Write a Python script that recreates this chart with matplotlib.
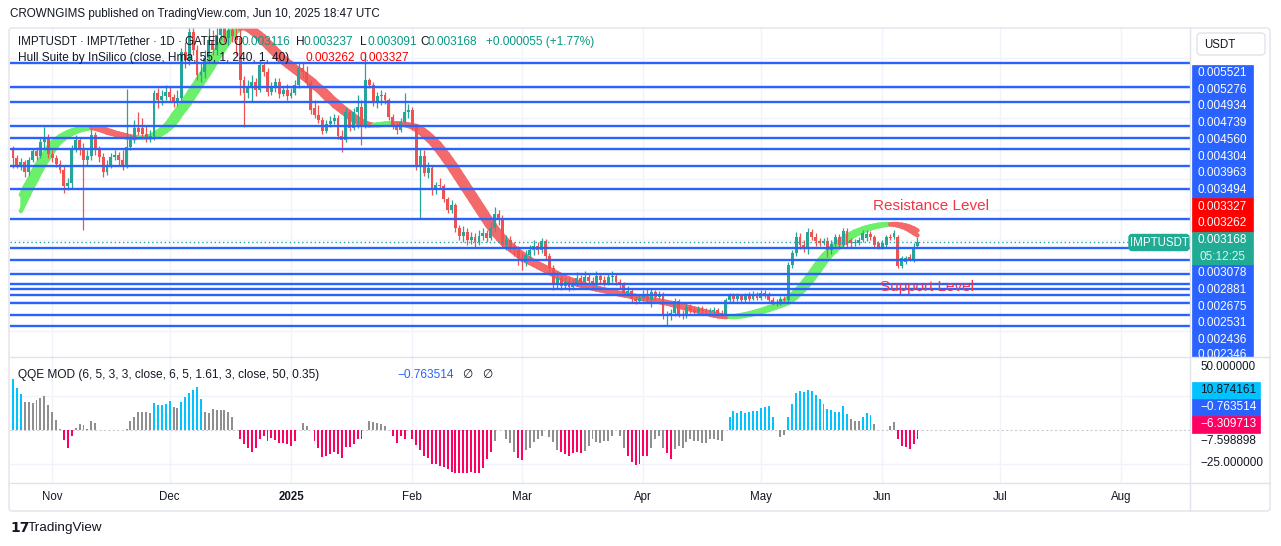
import datetime as dt
import numpy as np
import matplotlib
matplotlib.use("Agg")
import matplotlib.pyplot as plt
import matplotlib.dates as mdates
from matplotlib.patches import Rectangle, FancyBboxPatch
from matplotlib.collections import PolyCollection, LineCollection

plt.rcParams['font.family'] = ['Liberation Sans', 'DejaVu Sans']

W, H = 1281, 546

# daily candles IMPT/USDT, 2024-10-22 .. 2025-06-10, prices in 1e-6 USDT
first_day = dt.datetime(2024, 10, 22)
opens = [
    4385, 4280, 4188, 4227, 4095, 4253, 4372, 4306, 4490, 4556,
    4332, 4280, 4201, 4122, 3911, 3951, 4398, 4517, 4385, 4253,
    4306, 4583, 4385, 4293, 4095, 4188, 4293, 4319, 4253, 4174,
    4424, 4517, 4675, 4675, 4596, 4543, 4569, 5135, 5043, 5096,
    5148, 5082, 5004, 5069, 5675, 5569, 5938, 5701, 5372, 5411,
    5596, 5833, 5701, 5898, 5991, 5859, 5964, 5885, 5859, 5306,
    5135, 5227, 5280, 5175, 5504, 5411, 5148, 5201, 5280, 5122,
    5175, 5096, 5135, 5240, 5464, 5411, 5267, 4938, 4846, 4780,
    4635, 4727, 4767, 4806, 4569, 4517, 4885, 4675, 4885, 4951,
    4701, 5306, 5240, 5004, 5096, 5109, 5043, 4819, 4701, 4648,
    4754, 4885, 4911, 4688, 4161, 4306, 4082, 4148, 3859, 3924,
    3911, 3740, 3595, 3661, 3359, 3253, 3306, 3201, 3240, 3174,
    3253, 3293, 3227, 3359, 3543, 3464, 3135, 3201, 3109, 3069,
    2964, 2911, 3003, 3069, 3122, 3069, 3187, 2990, 2832, 2635,
    2701, 2595, 2648, 2582, 2635, 2701, 2648, 2714, 2661, 2622,
    2727, 2674, 2635, 2714, 2727, 2648, 2608, 2503, 2529, 2424,
    2398, 2437, 2490, 2411, 2516, 2450, 2490, 2201, 2227, 2240,
    2398, 2227, 2201, 2319, 2279, 2253, 2293, 2266, 2253, 2266,
    2279, 2240, 2227, 2411, 2464, 2424, 2464, 2411, 2464, 2424,
    2477, 2437, 2503, 2477, 2411, 2385, 2371, 2424, 2411, 2872,
    3030, 3240, 3135, 3095, 3306, 3240, 3187, 3161, 3187, 3069,
    3148, 3240, 3135, 3319, 3201, 3161, 3161, 3201, 3227, 3280,
    3240, 3161, 3109, 3135, 3240, 3240, 3240, 2858, 2911, 2977,
    2937, 3116]
highs = [
    4438, 4319, 4280, 4253, 4293, 4411, 4424, 4556, 4688, 4596,
    4385, 4319, 4253, 4174, 4017, 4451, 4583, 4556, 4477, 4385,
    4675, 4622, 4438, 4345, 4253, 4345, 4385, 4359, 4385, 5188,
    4583, 4780, 4885, 4806, 4714, 4648, 5175, 5201, 5175, 5240,
    5214, 5122, 5175, 5727, 5806, 6030, 6030, 5767, 5530, 5701,
    6030, 5964, 6030, 6096, 6096, 6096, 6069, 5991, 5964, 5359,
    5306, 5372, 5333, 5569, 5543, 5464, 5280, 5333, 5333, 5227,
    5254, 5201, 5306, 5543, 5530, 5490, 5306, 5043, 4977, 4819,
    4780, 4832, 4859, 4846, 4648, 4938, 4911, 4938, 5109, 5043,
    5675, 5333, 5280, 5148, 5175, 5148, 5069, 4859, 4754, 4806,
    5135, 4990, 4951, 4714, 4411, 4385, 4227, 4188, 3964, 4017,
    3938, 3767, 3727, 3688, 3398, 3385, 3359, 3306, 3293, 3332,
    3359, 3332, 3438, 3635, 3595, 3530, 3266, 3253, 3174, 3122,
    3043, 3069, 3135, 3201, 3174, 3227, 3214, 3030, 2872, 2779,
    2740, 2714, 2701, 2687, 2779, 2740, 2793, 2753, 2714, 2793,
    2766, 2727, 2766, 2793, 2766, 2687, 2648, 2595, 2569, 2464,
    2490, 2543, 2569, 2556, 2543, 2529, 2516, 2266, 2293, 2437,
    2424, 2279, 2358, 2358, 2319, 2332, 2332, 2306, 2306, 2319,
    2306, 2279, 2437, 2503, 2503, 2503, 2490, 2503, 2516, 2529,
    2516, 2543, 2543, 2516, 2450, 2424, 2464, 2464, 2911, 3069,
    3306, 3293, 3201, 3359, 3345, 3293, 3227, 3227, 3240, 3201,
    3280, 3280, 3359, 3359, 3227, 3214, 3240, 3332, 3332, 3319,
    3266, 3187, 3201, 3266, 3280, 3332, 3266, 2990, 2990, 3016,
    3161, 3237]
lows = [
    4148, 4148, 4122, 4030, 4056, 4227, 4253, 4280, 4411, 4280,
    4227, 4161, 4082, 3819, 3859, 3885, 4359, 4319, 3332, 4188,
    4253, 4319, 4227, 4030, 4056, 4148, 4253, 4188, 4122, 4148,
    4385, 4477, 4583, 4543, 4490, 4490, 4517, 4938, 4977, 5043,
    5017, 4951, 4964, 5043, 5464, 5504, 5635, 5306, 5280, 5333,
    5543, 5635, 5635, 5833, 5806, 5767, 5806, 5635, 5109, 4688,
    5069, 5017, 5096, 5148, 5359, 5096, 5109, 5148, 5069, 5096,
    5043, 5069, 5109, 5201, 5333, 5227, 4859, 4806, 4740, 4596,
    4609, 4688, 4727, 4530, 4359, 4490, 4635, 4648, 4675, 4451,
    4675, 5201, 4964, 4938, 4977, 4990, 4780, 4661, 4596, 4622,
    4727, 4806, 4648, 4122, 3490, 4043, 4017, 3793, 3806, 3872,
    3701, 3556, 3556, 3306, 3201, 3174, 3135, 3148, 3109, 3135,
    3201, 3174, 3201, 3306, 3398, 3095, 3069, 3043, 2990, 2872,
    2806, 2858, 2964, 3003, 3016, 3030, 2951, 2779, 2543, 2569,
    2543, 2556, 2529, 2543, 2595, 2595, 2608, 2622, 2569, 2582,
    2622, 2595, 2608, 2648, 2608, 2556, 2464, 2464, 2385, 2358,
    2371, 2398, 2385, 2319, 2411, 2424, 2161, 2069, 2148, 2201,
    2187, 2161, 2174, 2240, 2227, 2227, 2227, 2214, 2227, 2227,
    2214, 2201, 2201, 2385, 2385, 2398, 2385, 2385, 2398, 2411,
    2411, 2411, 2437, 2385, 2345, 2332, 2345, 2371, 2385, 2832,
    2990, 3082, 3043, 3016, 3201, 3122, 3122, 3135, 2977, 3016,
    3109, 3095, 3109, 3095, 3095, 3122, 3135, 3174, 3187, 3201,
    3095, 3082, 3082, 3109, 3201, 3214, 2832, 2832, 2885, 2924,
    2911, 3091]
closes = [
    4280, 4188, 4227, 4095, 4253, 4372, 4306, 4490, 4556, 4332,
    4280, 4201, 4122, 3911, 3951, 4398, 4517, 4385, 4253, 4306,
    4583, 4385, 4293, 4095, 4188, 4293, 4319, 4253, 4174, 4424,
    4517, 4675, 4622, 4596, 4543, 4569, 5135, 5043, 5096, 5148,
    5082, 5004, 5069, 5675, 5569, 5938, 5701, 5372, 5411, 5596,
    5833, 5701, 5898, 5991, 5859, 5964, 5885, 5833, 5306, 5135,
    5227, 5280, 5175, 5504, 5411, 5148, 5201, 5280, 5122, 5175,
    5096, 5135, 5240, 5464, 5411, 5267, 4911, 4846, 4780, 4635,
    4727, 4767, 4806, 4569, 4517, 4885, 4675, 4885, 4951, 4701,
    5306, 5240, 5004, 5096, 5109, 5043, 4819, 4701, 4648, 4754,
    4885, 4911, 4688, 4161, 4306, 4082, 4148, 3859, 3924, 3911,
    3740, 3595, 3661, 3359, 3253, 3306, 3201, 3240, 3174, 3253,
    3293, 3227, 3359, 3543, 3464, 3135, 3201, 3109, 3069, 2964,
    2911, 3003, 3069, 3122, 3069, 3187, 2990, 2832, 2635, 2701,
    2595, 2648, 2582, 2635, 2701, 2648, 2714, 2661, 2622, 2727,
    2674, 2635, 2714, 2727, 2648, 2608, 2503, 2529, 2424, 2398,
    2437, 2490, 2411, 2516, 2450, 2490, 2201, 2227, 2240, 2398,
    2227, 2201, 2319, 2279, 2253, 2293, 2266, 2253, 2266, 2279,
    2240, 2227, 2411, 2464, 2424, 2464, 2411, 2464, 2424, 2477,
    2437, 2503, 2477, 2411, 2385, 2371, 2424, 2411, 2872, 3030,
    3240, 3135, 3095, 3306, 3240, 3187, 3161, 3187, 3069, 3148,
    3240, 3135, 3319, 3135, 3161, 3174, 3201, 3293, 3280, 3240,
    3135, 3109, 3161, 3240, 3227, 3293, 2858, 2964, 2964, 2951,
    3113, 3168]

# Hull Suite (HMA 55) value per candle, 1e-6 USDT
hull = [
    3582, 3688, 3793, 3898, 3990, 4095, 4188, 4267, 4346, 4424,
    4490, 4530, 4569, 4596, 4622, 4642, 4655, 4668, 4675, 4677,
    4678, 4668, 4651, 4635, 4615, 4602, 4589, 4576, 4563, 4553,
    4546, 4543, 4546, 4549, 4556, 4569, 4596, 4628, 4668, 4714,
    4780, 4859, 4925, 4990, 5069, 5148, 5227, 5306, 5385, 5464,
    5556, 5635, 5714, 5793, 5872, 5938, 5977, 5997, 6004, 5991,
    5964, 5925, 5885, 5833, 5780, 5727, 5675, 5622, 5569, 5530,
    5490, 5451, 5411, 5372, 5333, 5293, 5240, 5201, 5161, 5109,
    5056, 5017, 4964, 4925, 4885, 4846, 4806, 4773, 4747, 4727,
    4714, 4710, 4714, 4721, 4727, 4734, 4736, 4734, 4727, 4721,
    4714, 4701, 4681, 4648, 4609, 4563, 4517, 4464, 4398, 4332,
    4260, 4188, 4109, 4030, 3951, 3872, 3793, 3714, 3635, 3556,
    3477, 3398, 3332, 3266, 3207, 3155, 3108, 3069, 3030, 2990,
    2957, 2924, 2898, 2872, 2845, 2819, 2793, 2766, 2740, 2714,
    2694, 2674, 2654, 2635, 2615, 2602, 2589, 2575, 2562, 2549,
    2539, 2529, 2516, 2503, 2493, 2483, 2473, 2464, 2453, 2444,
    2433, 2424, 2414, 2404, 2394, 2385, 2374, 2365, 2352, 2339,
    2325, 2312, 2299, 2286, 2273, 2260, 2247, 2233, 2220, 2207,
    2197, 2190, 2187, 2190, 2197, 2204, 2214, 2224, 2236, 2249,
    2264, 2279, 2296, 2315, 2332, 2352, 2371, 2404, 2444, 2490,
    2543, 2595, 2661, 2727, 2799, 2872, 2944, 3003, 3056, 3102,
    3148, 3187, 3227, 3260, 3286, 3313, 3332, 3352, 3368, 3381,
    3391, 3401, 3407, 3411, 3409, 3402, 3391, 3376, 3355, 3327,
    3293, 3262]

# QQE MOD histogram and bar colours (c = cyan, g = grey, p = pink)
qqe = [
    37.7, 30.6, 26.7, 20.8, 20.8, 20.1, 22.0, 23.3, 25.0, 18.4,
    13.5, 7.4, 0.4, -7.4, -13.0, -4.4, 1.7, 4.7, 3.7, 0.4,
    6.6, 4.9, 0, 0, 0, 0, 0, 0, 0, 0.4,
    6.6, 9.6, 13.2, 13.2, 13.2, 12.7, 19.9, 18.4, 18.4, 19.4,
    21.6, 16.7, 16.4, 20.8, 24.5, 27.5, 29.4, 31.6, 22.5, 13.5,
    12.7, 15.7, 14.7, 14.5, 14.5, 13.2, 9.8, 0, -6.9, -10.5,
    -13.0, -15.9, -13.0, -6.9, -4.4, -8.1, -5.6, -7.4, -9.3, -9.3,
    -10.5, -11.8, -8.1, 0, 4.9, 2.9, 0, -8.1, -13.0, -19.6,
    -19.1, -17.4, -16.2, -17.4, -20.8, -12.3, -12.3, -10.0, -6.4, -6.9,
    0, 6.6, 5.9, 5.4, 4.2, 2.9, 0, -4.4, -9.8, -4.4,
    -6.4, 0, -6.9, -11.3, -15.0, -19.1, -20.3, -24.8, -25.2, -26.5,
    -27.2, -28.9, -30.9, -31.9, -31.9, -31.9, -31.9, -30.9, -31.4, -31.4,
    -27.7, -21.1, -16.2, -8.1, 0, 0, -6.4, -9.8, -15.9, -20.3,
    -22.1, -14.7, -13.0, -8.8, -6.9, -4.4, 0, -5.1, -8.8, -14.7,
    -16.2, -17.4, -19.1, -16.7, -16.2, -16.7, -15.4, -11.8, -6.9, -8.8,
    -9.3, -8.1, -8.1, -4.4, 0, -4.4, -13.0, -19.1, -23.5, -25.5,
    -25.2, -19.1, -19.1, -13.0, -6.9, -4.4, -13.0, -17.2, -21.1, -13.7,
    -11.8, -13.0, -8.8, -6.9, -8.1, -8.1, -9.8, -9.8, -6.4, -6.9,
    -7.4, -8.1, 0, 9.6, 14.0, 12.5, 14.0, 12.7, 13.5, 14.0,
    14.0, 16.4, 17.2, 17.6, 9.6, 0, -4.9, -3.7, 9.6, 18.9,
    27.0, 28.7, 27.9, 29.2, 28.7, 25.7, 22.5, 18.9, 15.2, 14.7,
    13.2, 13.2, 17.6, 11.5, 8.3, 6.6, 6.6, 9.6, 12.3, 10.8,
    4.2, 0, 0, 0, 2.9, 5.9, -6.4, -11.8, -12.3, -13.7,
    -10.5, -6.309713]
qqe_colors = ("cccggggggg" "gggpppgggg" "gggggggggg" "ggggggcccc" "cggccccccg"
              "ggggggggpp" "pppppppppp" "pppggggppp" "pppppppppp" "gggggggppp"
              "pgpppppppp" "pppppppppp" "pppggggggp" "pggggggggg" "ppppppgggg"
              "gggggggppp" "pppggggppg" "gggggggggg" "gggccccccc" "cccccgggcc"
              "cccccccccc" "ccccgggccc" "ggggggpppp" "pp")
qqe_side_values = ["10.874161", "\u22120.763514", "\u22126.309713", "\u22127.598898"]

# horizontal lines drawn on the chart, 1e-6 USDT
levels = [5526, 5218, 5013, 4705, 4539, 4395, 4171, 3868, 3473,
          3092, 2934, 2757, 2626, 2552, 2473, 2376, 2218, 2073]
labels_top = ["0.005521", "0.005276", "0.004934", "0.004739",
              "0.004560", "0.004304", "0.003963", "0.003494"]
labels_bottom = ["0.003078", "0.002881", "0.002675", "0.002531", "0.002436", "0.002346"]

month_ticks = [dt.datetime(2024, 11, 1), dt.datetime(2024, 12, 1), dt.datetime(2025, 1, 1),
               dt.datetime(2025, 2, 1), dt.datetime(2025, 3, 1), dt.datetime(2025, 4, 1),
               dt.datetime(2025, 5, 1), dt.datetime(2025, 6, 1), dt.datetime(2025, 7, 1),
               dt.datetime(2025, 8, 1)]
month_names = ["Nov", "Dec", "2025", "Feb", "Mar", "Apr", "May", "Jun", "Jul", "Aug"]

UP, DN = "#26a69a", "#ef5350"
HULL_UP, HULL_DN = "#6cf06c", "#f46a6a"
BLUE = "#2962ff"
GRID = "#f0f3fa"
BORDER = "#e0e3eb"
TXT = "#131722"


def rect(x0, y0, x1, y1):
    return [x0 / W, 1 - y1 / H, (x1 - x0) / W, (y1 - y0) / H]


o = np.array(opens) / 1e6
h = np.array(highs) / 1e6
l = np.array(lows) / 1e6
c = np.array(closes) / 1e6
hm = np.array(hull) / 1e6
n = len(c)
d0 = mdates.date2num(first_day)
x = d0 + np.arange(n)
xlim = (d0 - 0.77, d0 + 300.6)
mnum = mdates.date2num(month_ticks)

fig = plt.figure(figsize=(W / 100, H / 100), dpi=100)
fig.patch.set_facecolor("white")

# ---- price pane
ax = fig.add_axes(rect(10, 28, 1190, 357))
ax.set_xlim(*xlim)
ax.set_ylim(0.001661, 0.005991)
ax.set_xticks([])
ax.set_yticks([])
for s in ax.spines.values():
    s.set_visible(False)
for m in mnum:
    ax.axvline(m, color=GRID, lw=1, zorder=0)
for g in np.arange(0.0020, 0.0060, 0.0004):
    ax.axhline(g, color=GRID, lw=1, zorder=0)

# hull band
hcol = []
cur = HULL_UP
for i in range(n):
    if i >= 2:
        if hm[i] > hm[i - 2]:
            cur = HULL_UP
        elif hm[i] < hm[i - 2]:
            cur = HULL_DN
    hcol.append(cur)
polys, pcols, segs_m, segs_s = [], [], [], []
for i in range(3, n):
    polys.append([(x[i - 1], hm[i - 1]), (x[i], hm[i]), (x[i], hm[i - 2]), (x[i - 1], hm[i - 3])])
    pcols.append(hcol[i])
    segs_m.append([(x[i - 1], hm[i - 1]), (x[i], hm[i])])
    segs_s.append([(x[i - 1], hm[i - 3]), (x[i], hm[i - 2])])
ax.add_collection(PolyCollection(polys, facecolors=pcols, edgecolors=pcols, linewidths=0.6, zorder=2))
ax.add_collection(LineCollection(segs_m, colors=pcols, linewidths=3.2, capstyle="round", zorder=2))
ax.add_collection(LineCollection(segs_s, colors=pcols, linewidths=3.2, capstyle="round", zorder=2))

# candles
up = c >= o
col = np.where(up, UP, DN)
ax.vlines(x, l, h, colors=col, lw=0.9, zorder=3)
ax.bar(x, np.maximum(np.abs(c - o), 9e-6), bottom=np.minimum(o, c), width=0.74,
       color=col, linewidth=0, zorder=3)

for p in levels:
    ax.axhline(p / 1e6, color=BLUE, lw=1.7, zorder=4)
ax.axhline(c[-1], color=UP, lw=1, ls=(0, (1, 2)), zorder=4)

# ---- QQE pane
axq = fig.add_axes(rect(10, 357, 1190, 483))
axq.set_xlim(*xlim)
axq.set_ylim(-39.0, 53.7)
for s in axq.spines.values():
    s.set_visible(False)
for m in mnum:
    axq.axvline(m, color=GRID, lw=1, zorder=0)
for g in (25, -25):
    axq.axhline(g, color=GRID, lw=1, zorder=0)
axq.axhline(0, color="#c9ccd3", lw=0.8, ls=(0, (2, 2)), zorder=1)
cmap = {"c": "#00c3ff", "g": "#8f8f8f", "p": "#ff0062"}
axq.bar(x, qqe, width=0.5, color=[cmap[k] for k in qqe_colors], linewidth=0, zorder=3)
axq.set_yticks([])
axq.set_xticks(mnum)
axq.set_xticklabels(month_names)
axq.tick_params(axis="x", length=0, pad=5.5, labelsize=8.3, labelcolor=TXT)
for t in axq.get_xticklabels():
    if t.get_text() == "2025":
        t.set_fontweight("bold")

# ---- right price scale labels
axr = fig.add_axes(rect(1190, 28, 1281, 357))
axr.set_xlim(1190, 1281)
axr.set_ylim(357, 28)
axr.axis("off")
slot = 16.7
texts = labels_top + [f"{hm[-3]:.6f}", f"{hm[-1]:.6f}", f"{c[-1]:.6f}", "05:12:25"] + labels_bottom
fills = [BLUE] * 8 + ["#ff0000"] * 2 + ["#22ab94"] * 2 + [BLUE] * 6
for k, (t, fc) in enumerate(zip(texts, fills)):
    yc = 73 + slot * k
    axr.add_patch(Rectangle((1192, yc - slot / 2), 61, slot, facecolor=fc, edgecolor=fc, lw=0.5))
    ty = min(yc, 354.5)
    axr.text(1222.5, ty, t, ha="center", va="center", color="#d9f5ef" if t == "05:12:25" else "white",
             fontsize=8.5, clip_on=True)
axr.add_patch(FancyBboxPatch((1197, 33), 68, 22, boxstyle="round,pad=0,rounding_size=4",
                             facecolor="white", edgecolor=BORDER, lw=1))
axr.text(1204, 44.5, "USDT", ha="left", va="center", color=TXT, fontsize=8.3)

axrq = fig.add_axes(rect(1190, 357, 1281, 483))
axrq.set_xlim(1190, 1281)
axrq.set_ylim(483, 357)
axrq.axis("off")
axrq.text(1200, 367, "50.000000", ha="left", va="center", color=TXT, fontsize=8.3, clip_on=True)
qbox = [("#00c3ff", TXT), (BLUE, "white"), ("#ff0062", "white"), (None, TXT)]
for k, (t, (fc, tc)) in enumerate(zip(qqe_side_values, qbox)):
    yc = 390 + 17 * k
    if fc:
        axrq.add_patch(Rectangle((1192, yc - 8.5), 68, 17, facecolor=fc, edgecolor=fc, lw=0.5))
    axrq.text(1200, yc, t, ha="left", va="center", color=tc, fontsize=8.5)
axrq.text(1200, 463, "\u221225.000000", ha="left", va="center", color=TXT, fontsize=8.5)

# ---- overlay: frame, legends, annotations
ov = fig.add_axes([0, 0, 1, 1])
ov.set_xlim(0, W)
ov.set_ylim(H, 0)
ov.axis("off")
ov.set_zorder(10)
ov.plot([10, 1270], [357, 357], color=BORDER, lw=1)
ov.plot([10, 1270], [483, 483], color=BORDER, lw=1)
ov.plot([1190, 1190], [28, 511], color=BORDER, lw=1)
ov.add_patch(FancyBboxPatch((9, 28), 1261, 483, boxstyle="round,pad=0,rounding_size=3",
                            facecolor="none", edgecolor=BORDER, lw=1))

ov.text(10, 14, "CROWNGIMS published on TradingView.com, Jun 10, 2025 18:47 UTC",
        ha="left", va="center", color=TXT, fontsize=8.4)

teal = "#089981"
chg = c[-1] - c[-2]
fs = 8.6
ov.text(18, 42, "IMPTUSDT \u00b7 IMPT/Tether \u00b7 1D \u00b7 GATEIO", ha="left", va="center", color=TXT, fontsize=8.3)
for lx, lab, vx, val in [(233, "O", 241, o[-1]), (296, "H", 304, h[-1]),
                         (360, "L", 367, l[-1]), (420, "C", 428, c[-1])]:
    ov.text(lx, 42, lab, ha="left", va="center", color=TXT, fontsize=fs)
    ov.text(vx, 42, f"{val:.6f}", ha="left", va="center", color=teal, fontsize=fs)
ov.text(486, 42, f"+{chg:.6f} (+{chg / c[-2] * 100:.2f}%)", ha="left", va="center", color=teal, fontsize=fs)
ov.text(18, 58, "Hull Suite by InSilico (close, Hma, 55, 1, 240, 1, 40)", ha="left", va="center",
        color=TXT, fontsize=fs)
ov.text(305, 58, f"{hm[-1]:.6f}", ha="left", va="center", color="#ff0000", fontsize=fs)
ov.text(360, 58, f"{hm[-3]:.6f}", ha="left", va="center", color="#ff0000", fontsize=fs)

ov.text(18, 375, "QQE MOD (6, 5, 3, 3, close, 6, 5, 1.61, 3, close, 50, 0.35)", ha="left", va="center",
        color=TXT, fontsize=fs)
ov.text(397, 375, qqe_side_values[1], ha="left", va="center", color=BLUE, fontsize=fs)
ov.text(462, 375, "\u2205", ha="left", va="center", color=TXT, fontsize=fs)
ov.text(482, 375, "\u2205", ha="left", va="center", color=TXT, fontsize=fs)

ov.add_patch(FancyBboxPatch((1129, 234.5), 60, 16, boxstyle="round,pad=0,rounding_size=3",
                            facecolor="#22ab94", edgecolor="#22ab94"))
ov.text(1159, 242.5, "IMPTUSDT", ha="center", va="center", color="white", fontsize=8.3)

ov.text(873, 206, "Resistance Level", ha="left", va="center", color="#f23645", fontsize=11)
ov.text(880, 287, "Support Level", ha="left", va="center", color="#f23645", fontsize=11)

ov.text(10, 528, "17", ha="left", va="center", color=TXT, fontsize=10, fontweight="heavy",
        family="DejaVu Sans")
ov.text(28, 528, "TradingView", ha="left", va="center", color=TXT, fontsize=9.7)

fig.savefig("out.png", dpi=100)
